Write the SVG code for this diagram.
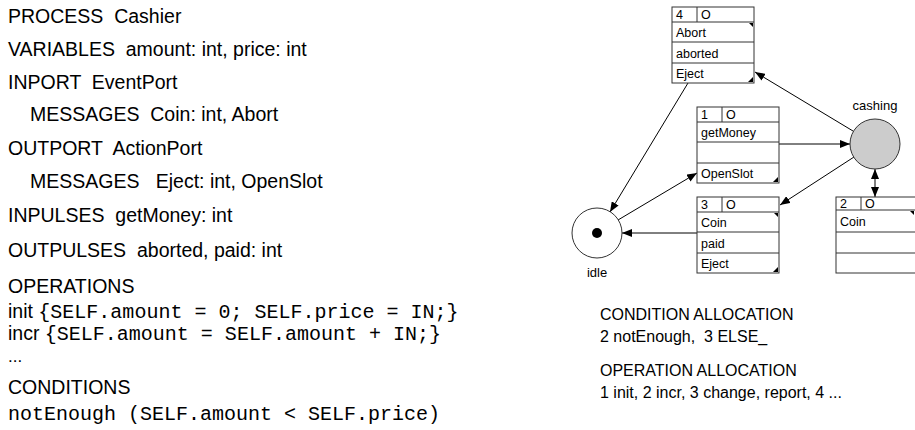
<svg xmlns="http://www.w3.org/2000/svg" width="915" height="430" viewBox="0 0 915 430">
<style>
text{white-space:pre}
.t{font-family:"Liberation Sans",Arial,sans-serif;font-size:19.5px;fill:#000}
.r{font-family:"Liberation Sans",Arial,sans-serif;font-size:16px;fill:#000}
.m{font-family:"Liberation Mono","Courier New",monospace;font-size:20px;fill:#000}
.b{font-family:"Liberation Sans",Arial,sans-serif;font-size:12.5px;fill:#000}
.lbl{font-family:"Liberation Sans",Arial,sans-serif;font-size:13px;fill:#000;text-anchor:middle}
.box{fill:#fff;stroke:#333;stroke-width:1}
.ln{stroke:#333;stroke-width:1;fill:none}
.tri{fill:#000}
.c{stroke:#000;stroke-width:1;fill:none;marker-end:url(#ah)}
</style>
<defs>
<marker id="ah" markerUnits="userSpaceOnUse" markerWidth="10" markerHeight="8" refX="10" refY="4" orient="auto-start-reverse">
<path d="M0,0 L10,4 L0,8 z" fill="#000"/>
</marker>
</defs>
<g id="spec">
<text class="t" x="8" y="23" xml:space="preserve">PROCESS  Cashier</text>
<text class="t" x="8" y="56" xml:space="preserve">VARIABLES  amount: int, price: int</text>
<text class="t" x="8" y="89" xml:space="preserve">INPORT  EventPort</text>
<text class="t" x="30" y="121" xml:space="preserve">MESSAGES  Coin: int, Abort</text>
<text class="t" x="8" y="155" xml:space="preserve">OUTPORT  ActionPort</text>
<text class="t" x="30" y="188" xml:space="preserve">MESSAGES   Eject: int, OpenSlot</text>
<text class="t" x="8" y="222" xml:space="preserve">INPULSES  getMoney: int</text>
<text class="t" x="8" y="257" xml:space="preserve">OUTPULSES  aborted, paid: int</text>
<text class="t" x="8" y="293">OPERATIONS</text>
<text x="8" y="318"><tspan class="t">init </tspan><tspan class="m">{SELF.amount = 0; SELF.price = IN;}</tspan></text>
<text x="8" y="340"><tspan class="t">incr </tspan><tspan class="m">{SELF.amount = SELF.amount + IN;}</tspan></text>
<text class="t" x="8" y="362" style="font-size:17px">...</text>
<text class="t" x="8" y="394">CONDITIONS</text>
<text class="m" x="8" y="420">notEnough (SELF.amount &lt; SELF.price)</text>
</g>
<g id="alloc">
<text class="r" x="600" y="320">CONDITION ALLOCATION</text>
<text class="r" x="600" y="342" xml:space="preserve">2 notEnough,  3 ELSE_</text>
<text class="r" x="600" y="376">OPERATION ALLOCATION</text>
<text class="r" x="600" y="398">1 init, 2 incr, 3 change, report, 4 ...</text>
</g>
<g id="connectors">
<line class="c" x1="688" y1="83" x2="610" y2="212"/>
<line class="c" x1="853" y1="131" x2="755" y2="72"/>
<line class="c" x1="779" y1="144" x2="850" y2="144"/>
<line class="c" x1="618" y1="220" x2="697" y2="173"/>
<line class="c" x1="854" y1="157" x2="780" y2="205"/>
<line class="c" x1="697" y1="233" x2="622" y2="233"/>
<line class="c" x1="875" y1="169" x2="875" y2="197" style="marker-start:url(#ah)"/>
</g>
<g id="cashing">
<circle cx="875" cy="144" r="25" fill="#cccccc" stroke="#333" stroke-width="1"/>
<text class="lbl" x="875" y="110">cashing</text>
</g>
<g id="idle">
<circle cx="597" cy="233" r="25" fill="#fff" stroke="#333" stroke-width="1"/>
<circle cx="597" cy="233" r="5" fill="#000"/>
<text class="lbl" x="597" y="277">idle</text>
</g>
<g id="t4">
<rect class="box" x="672" y="7" width="82" height="76"/>
<path class="ln" d="M672,22H754M672,42H754M672,63H754M697,7V22"/>
<text class="b" x="676" y="19">4</text><text class="b" x="701" y="19">O</text>
<text class="b" x="676" y="37">Abort</text>
<text class="b" x="676" y="58">aborted</text>
<text class="b" x="676" y="78">Eject</text>
<path class="tri" d="M749,23H753V27z"/>
<path class="tri" d="M753,77V82H748z"/>
</g>
<g id="t1">
<rect class="box" x="697" y="107" width="82" height="76"/>
<path class="ln" d="M697,122H779M697,142H779M697,163H779M722,107V122"/>
<text class="b" x="701" y="119">1</text><text class="b" x="726" y="119">O</text>
<text class="b" x="701" y="137">getMoney</text>
<text class="b" x="701" y="178">OpenSlot</text>
<path class="tri" d="M778,177V182H773z"/>
</g>
<g id="t3">
<rect class="box" x="697" y="197" width="82" height="76"/>
<path class="ln" d="M697,212H779M697,232H779M697,253H779M722,197V212"/>
<text class="b" x="701" y="209">3</text><text class="b" x="726" y="209">O</text>
<text class="b" x="701" y="227">Coin</text>
<text class="b" x="701" y="248">paid</text>
<text class="b" x="701" y="268">Eject</text>
<path class="tri" d="M774,213H778V217z"/>
<path class="tri" d="M778,267V272H773z"/>
</g>
<g id="t2">
<rect class="box" x="836" y="197" width="82" height="76"/>
<path class="ln" d="M836,210H918M836,232H918M836,253H918M861,197V210"/>
<text class="b" x="840" y="208">2</text><text class="b" x="865" y="208">O</text>
<text class="b" x="840" y="226">Coin</text>
<path class="tri" d="M910,211H914V215z"/>
</g>
</svg>
